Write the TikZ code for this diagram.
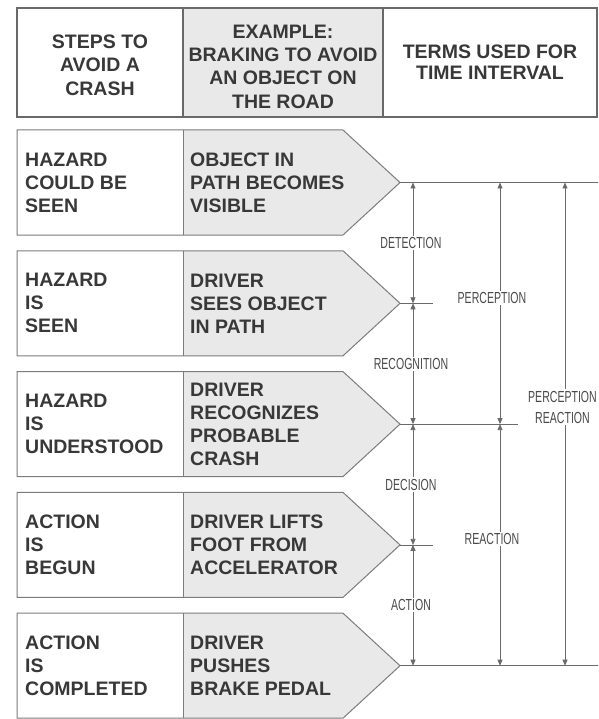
\documentclass[tikz,border=0pt]{standalone}
\usepackage{fontspec}
\setmainfont{Liberation Sans}
\newfontfamily\termfont[FakeStretch=0.66]{Liberation Sans}
\usetikzlibrary{arrows.meta}
\definecolor{ink}{HTML}{383838}
\definecolor{rule}{HTML}{7C7C7C}
\definecolor{panel}{HTML}{E9E9E9}
\definecolor{guideink}{HTML}{6A6A6A}
\definecolor{termink}{HTML}{4A4A4A}

% one row: name, centre y, step text, example text
\newcommand\drawrow[4]{%
  \fill[white] (17,#2-52.5) rectangle (183,#2+52.5);
  \fill[panel] (183,#2-52.5) -- (343,#2-52.5) -- (400,#2) -- (343,#2+52.5) -- (183,#2+52.5) -- cycle;
  \draw[cell] (17,#2-52.5) -- (343,#2-52.5) -- (400,#2) -- (343,#2+52.5) -- (17,#2+52.5) -- cycle;
  \draw[cell] (183,#2-52.5) -- (183,#2+52.5);
  \node[bodytxt] (#1s) at (25,#2) {#3};
  \node[bodytxt] (#1e) at (190,#2) {#4};
  \coordinate (#1tip) at (400,#2);
}

\begin{document}
\begin{tikzpicture}[x=1pt,y=-1pt,
  >={Triangle[width=5pt,length=6pt]},
  cell/.style={draw=rule, line width=1pt, line join=miter},
  headcell/.style={draw=rule!85!black, line width=1.3pt},
  bodytxt/.style={font=\fontsize{19.5}{23}\selectfont\bfseries, text=ink,
    align=left, anchor=west, inner sep=0pt},
  headtxt/.style={font=\fontsize{19.5}{23.3}\selectfont\bfseries, text=ink,
    align=center, inner sep=0pt},
  guide/.style={draw=guideink, line width=0.8pt},
  dimline/.style={guide, <->},
  term/.style={font=\termfont\fontsize{16}{21}\selectfont, text=termink,
    fill=white, inner sep=1.5pt, align=center},
]
\useasboundingbox (0,0) rectangle (598,719);
\fill[white] (0,0) rectangle (598,719);

% heading strip
\fill[panel] (183,8) rectangle (383,117);
\draw[headcell] (17,8) rectangle (597,117);
\draw[headcell] (183,8) -- (183,117);
\draw[headcell] (383,8) -- (383,117);
\node[headtxt] (h1) at (100,65) {STEPS TO\\AVOID A\\CRASH};
\node[headtxt] (h2) at (283,66.5) {EXAMPLE:\\BRAKING TO AVOID\\AN OBJECT ON\\THE ROAD};
\node[headtxt, font=\fontsize{19.5}{21}\selectfont\bfseries] (h3) at (490,62.5) {TERMS USED FOR\\TIME INTERVAL};

% the five steps
\drawrow{r1}{182.5}{HAZARD\\COULD BE\\SEEN}{OBJECT IN\\PATH BECOMES\\VISIBLE}
\drawrow{r2}{303.3}{HAZARD\\IS\\SEEN}{DRIVER\\SEES OBJECT\\IN PATH}
\drawrow{r3}{424.1}{HAZARD\\IS\\UNDERSTOOD}{DRIVER\\RECOGNIZES\\PROBABLE\\CRASH}
\drawrow{r4}{544.9}{ACTION\\IS\\BEGUN}{DRIVER LIFTS\\FOOT FROM\\ACCELERATOR}
\drawrow{r5}{665.7}{ACTION\\IS\\COMPLETED}{DRIVER\\PUSHES\\BRAKE PEDAL}

% columns of the interval scale
\coordinate (c1) at (413,0);
\coordinate (c2) at (500,0);
\coordinate (c3) at (565,0);
\coordinate (edge) at (598,0);

% reference lines leaving the arrow tips
\draw[guide] (r1tip) -- (r1tip -| edge);
\draw[guide] (r2tip) -- ++(33,0);
\draw[guide] (r3tip) -- ++(118,0);
\draw[guide] (r4tip) -- ++(33,0);
\draw[guide] (r5tip) -- (r5tip -| edge);

% step intervals
\draw[dimline] (r1tip -| c1) -- (r2tip -| c1);
\draw[dimline] (r2tip -| c1) -- (r3tip -| c1);
\draw[dimline] (r3tip -| c1) -- (r4tip -| c1);
\draw[dimline] (r4tip -| c1) -- (r5tip -| c1);
% grouped intervals
\draw[dimline] (r1tip -| c2) -- (r3tip -| c2);
\draw[dimline] (r3tip -| c2) -- (r5tip -| c2);
\draw[dimline] (r1tip -| c3) -- (r5tip -| c3);

% interval names
\path (r1tip -| c1) -- node[term, xshift=-2pt] (tdet) {DETECTION} (r2tip -| c1);
\path (r2tip -| c1) -- node[term, xshift=-2pt] (trec) {RECOGNITION} (r3tip -| c1);
\path (r3tip -| c1) -- node[term, xshift=-2pt] (tdec) {DECISION} (r4tip -| c1);
\path (r4tip -| c1) -- node[term, xshift=-2pt] (tact) {ACTION} (r5tip -| c1);
\path (r1tip -| c2) -- node[term, xshift=-8pt, yshift=5pt] (tper) {PERCEPTION} (r3tip -| c2);
\path (r3tip -| c2) -- node[term, xshift=-8pt, yshift=6pt] (trea) {REACTION} (r5tip -| c2);
\path (r1tip -| c3) -- node[term, xshift=-2.5pt, yshift=17pt, inner xsep=0pt] (tpr) {PERCEPTION\\REACTION} (r5tip -| c3);
\end{tikzpicture}
\end{document}
